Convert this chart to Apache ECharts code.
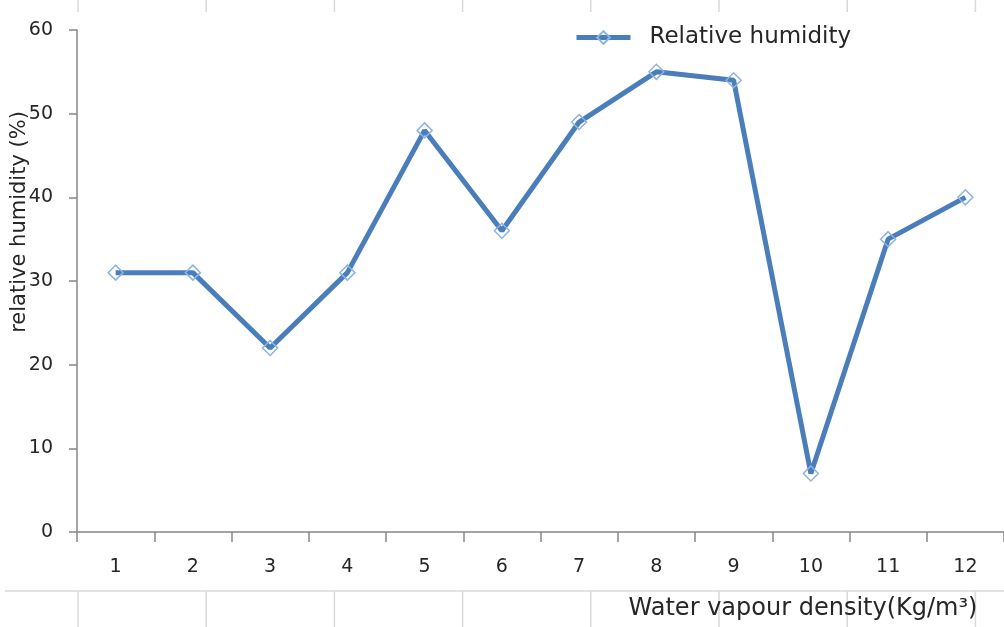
<!DOCTYPE html>
<html>
<head>
<meta charset="utf-8">
<script src="https://cdn.jsdelivr.net/npm/echarts@6/dist/echarts.min.js"></script>
<style>
  html, body { margin: 0; padding: 0; background: #fff; }
  #chart { width: 1004px; height: 627px; }
</style>
</head>
<body>
<div id="chart"></div>
<script>
// data
var categories = ['1', '2', '3', '4', '5', '6', '7', '8', '9', '10', '11', '12'];
var humidity = [31, 31, 22, 31, 48, 36, 49, 55, 54, 7, 35, 40];
var yTicks = { min: 0, max: 60, interval: 10 };

var FONT = '"DejaVu Sans", "Open Sans", sans-serif';
var TEXT = '#262626';
var AXIS = '#878787';
var SHEET = '#d9d9d9';

// faint spreadsheet cell lines seen behind the chart
var sheetLines = [];
for (var k = 0; k < 8; k++) {
  var gx = 78 + k * 128.2;
  sheetLines.push({ type: 'line', shape: { x1: gx, y1: 0, x2: gx, y2: 12 }, style: { stroke: SHEET, lineWidth: 1.5 }, silent: true });
  sheetLines.push({ type: 'line', shape: { x1: gx, y1: 591, x2: gx, y2: 627 }, style: { stroke: SHEET, lineWidth: 1.5 }, silent: true });
}
sheetLines.push({ type: 'line', shape: { x1: 5, y1: 591, x2: 1004, y2: 591 }, style: { stroke: SHEET, lineWidth: 1.5 }, silent: true });
sheetLines.push({
  type: 'text', x: 20, y: 222, rotation: Math.PI / 2,
  style: { text: 'relative humidity (%)', font: '21px ' + FONT, fill: TEXT, align: 'center', verticalAlign: 'middle' },
  z: 10
});
sheetLines.push({
  type: 'text', x: 803, y: 609,
  style: { text: 'Water vapour density(Kg/m³)', font: '24px ' + FONT, fill: TEXT, align: 'center', verticalAlign: 'middle' },
  z: 10
});

var chart = echarts.init(document.getElementById('chart'));
chart.setOption({
  animation: false,
  backgroundColor: '#fff',
  graphic: sheetLines,
  legend: {
    left: 569,
    top: 21,
    itemWidth: 54,
    itemHeight: 16,
    lineStyle: { width: 5 },
    textStyle: { fontFamily: FONT, fontSize: 23, color: TEXT, padding: [0, 0, 0, 14] },
    data: ['Relative humidity']
  },
  grid: { left: 77, right: -2, top: 30, bottom: 95, containLabel: false },
  xAxis: {
    type: 'category',
    data: categories,
    boundaryGap: true,
    axisLine: { lineStyle: { color: AXIS, width: 1.5 } },
    axisTick: { show: true, length: 10, lineStyle: { color: AXIS, width: 1.5 } },
    axisLabel: { fontFamily: FONT, fontSize: 19, color: TEXT, margin: 26 },
    splitLine: { show: false }
  },
  yAxis: {
    type: 'value',
    min: yTicks.min,
    max: yTicks.max,
    interval: yTicks.interval,
    axisLine: { show: true, lineStyle: { color: AXIS, width: 1.5 } },
    axisTick: { show: true, length: 8, lineStyle: { color: AXIS, width: 1.5 } },
    axisLabel: { fontFamily: FONT, fontSize: 19, color: TEXT, margin: 24 },
    splitLine: { show: false }
  },
  series: [
    {
      name: 'Relative humidity',
      type: 'line',
      data: humidity,
      symbol: 'diamond',
      symbolSize: 15,
      lineStyle: { color: '#4a7ebb', width: 5 },
      itemStyle: { color: 'rgba(255,255,255,0)', borderColor: '#8db3e2', borderWidth: 1.5 },
      z: 3
    }
  ]
});
</script>
</body>
</html>
